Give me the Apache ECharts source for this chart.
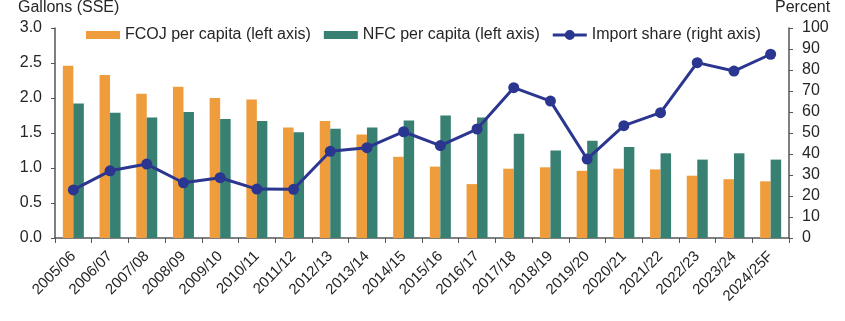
<!DOCTYPE html>
<html><head><meta charset="utf-8">
<script src="https://cdn.jsdelivr.net/npm/echarts@6/dist/echarts.min.js"></script>
<style>html,body{margin:0;padding:0;background:#fff}#c{width:845px;height:321px}</style>
</head><body><div id="c"></div>
<script>
const categories = ["2005/06","2006/07","2007/08","2008/09","2009/10","2010/11","2011/12","2012/13","2013/14","2014/15","2015/16","2016/17","2017/18","2018/19","2019/20","2020/21","2021/22","2022/23","2023/24","2024/25F"];
const fcoj = [2.46,2.33,2.06,2.16,2.00,1.98,1.58,1.67,1.48,1.16,1.02,0.77,0.99,1.01,0.96,0.99,0.98,0.89,0.84,0.81];
const nfc = [1.92,1.79,1.72,1.80,1.70,1.67,1.51,1.56,1.58,1.68,1.75,1.72,1.49,1.25,1.39,1.30,1.21,1.12,1.21,1.12];
const importShare = [22.9,32.0,35.2,26.3,28.7,23.3,23.2,41.3,43.0,50.6,44.0,51.9,71.6,65.2,37.6,53.5,59.7,83.5,79.5,87.5];
const leftTicks = [0,0.5,1.0,1.5,2.0,2.5,3.0];
const rightTicks = [0,10,20,30,40,50,60,70,80,90,100];

const font = "'Liberation Sans', Arial, sans-serif";
const txt = '#262626';
const axisCol = '#555';
const navy = '#2B3690';
const chart = echarts.init(document.getElementById('c'), null, {renderer:'canvas'});
chart.setOption({
  animation:false,
  textStyle:{fontFamily:font},
  grid:{left:55,right:56,top:28,bottom:83,containLabel:false},
  legend:{
    top:22,left:81,itemWidth:34,itemHeight:10,itemGap:13,symbolKeepAspect:true,
    textStyle:{fontFamily:font,fontSize:16,color:txt},
    data:[
      {name:'FCOJ per capita (left axis)',icon:'path://M0,1H34V9H0Z'},
      {name:'NFC per capita (left axis)',icon:'path://M0,1H34V9H0Z'},
      {name:'Import share (right axis)',icon:'path://M0,3.5H34V6.5H0Z M22,5A5,5 0 1 1 12,5A5,5 0 1 1 22,5Z'}
    ]
  },
  graphic:[
    {type:'text',left:18,top:0,style:{text:'Gallons (SSE)',font:'16px '+font,fill:txt}},
    {type:'text',left:775,top:0,style:{text:'Percent',font:'16px '+font,fill:txt}}
  ],
  xAxis:{
    type:'category',data:categories,boundaryGap:true,
    axisLine:{lineStyle:{color:axisCol,width:1.5}},
    axisTick:{show:true,alignWithLabel:false,length:5,lineStyle:{color:axisCol}},
    axisLabel:{rotate:45,fontSize:15,color:txt,margin:16,interval:0,fontFamily:font}
  },
  yAxis:[
    {type:'value',min:leftTicks[0],max:leftTicks[leftTicks.length-1],interval:0.5,position:'left',
     axisLine:{show:true,lineStyle:{color:axisCol,width:1.5}},
     axisTick:{show:true,length:4,lineStyle:{color:axisCol}},
     splitLine:{show:false},
     axisLabel:{fontSize:16,color:txt,margin:13,formatter:v=>v.toFixed(1),fontFamily:font}},
    {type:'value',min:rightTicks[0],max:rightTicks[rightTicks.length-1],interval:10,position:'right',
     axisLine:{show:true,lineStyle:{color:axisCol,width:1.5}},
     axisTick:{show:true,length:4,lineStyle:{color:axisCol}},
     splitLine:{show:false},
     axisLabel:{fontSize:16,color:txt,margin:13,fontFamily:font}}
  ],
  series:[
    {name:'FCOJ per capita (left axis)',type:'bar',data:fcoj,yAxisIndex:0,barWidth:10.5,barGap:'0%',
     itemStyle:{color:'#EF9D3C'}},
    {name:'NFC per capita (left axis)',type:'bar',data:nfc,yAxisIndex:0,barWidth:10.5,barGap:'0%',
     itemStyle:{color:'#378072'}},
    {name:'Import share (right axis)',type:'line',data:importShare,yAxisIndex:1,
     symbol:'circle',symbolSize:11,lineStyle:{color:navy,width:3},itemStyle:{color:navy},z:5}
  ]
});
</script></body></html>
